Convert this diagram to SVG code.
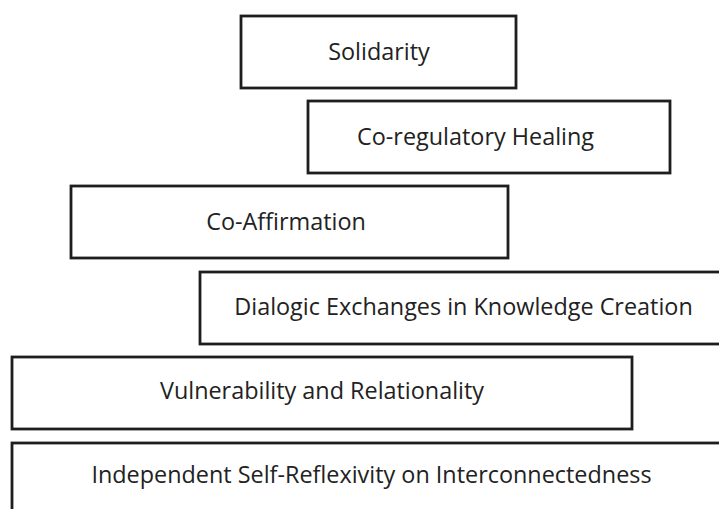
<svg xmlns="http://www.w3.org/2000/svg" width="719" height="509" viewBox="0 0 719 509">
<style>
rect{fill:#fff;stroke:#1e1e1e;stroke-width:2.8}
text{font-family:"Open Sans","Noto Sans",sans-serif;font-size:23.4px;fill:#222;text-anchor:middle}
</style>
<rect x="0" y="0" width="719" height="509" style="stroke:none"/>
<g id="n1"><rect x="241" y="16" width="275" height="72"/><text x="379" y="60">Solidarity</text></g>
<g id="n2"><rect x="308" y="101" width="362" height="72"/><text x="475.5" y="145">Co-regulatory Healing</text></g>
<g id="n3"><rect x="71" y="186" width="437" height="72"/><text x="286" y="230">Co-Affirmation</text></g>
<g id="n4"><rect x="200" y="272" width="530" height="72"/><text x="463.5" y="315">Dialogic Exchanges in Knowledge Creation</text></g>
<g id="n5"><rect x="12" y="357" width="620" height="72"/><text x="322" y="399">Vulnerability and Relationality</text></g>
<g id="n6"><rect x="12" y="443" width="720" height="80"/><text x="371.5" y="483">Independent Self-Reflexivity on Interconnectedness</text></g>
<g id="connectors"/>
</svg>
